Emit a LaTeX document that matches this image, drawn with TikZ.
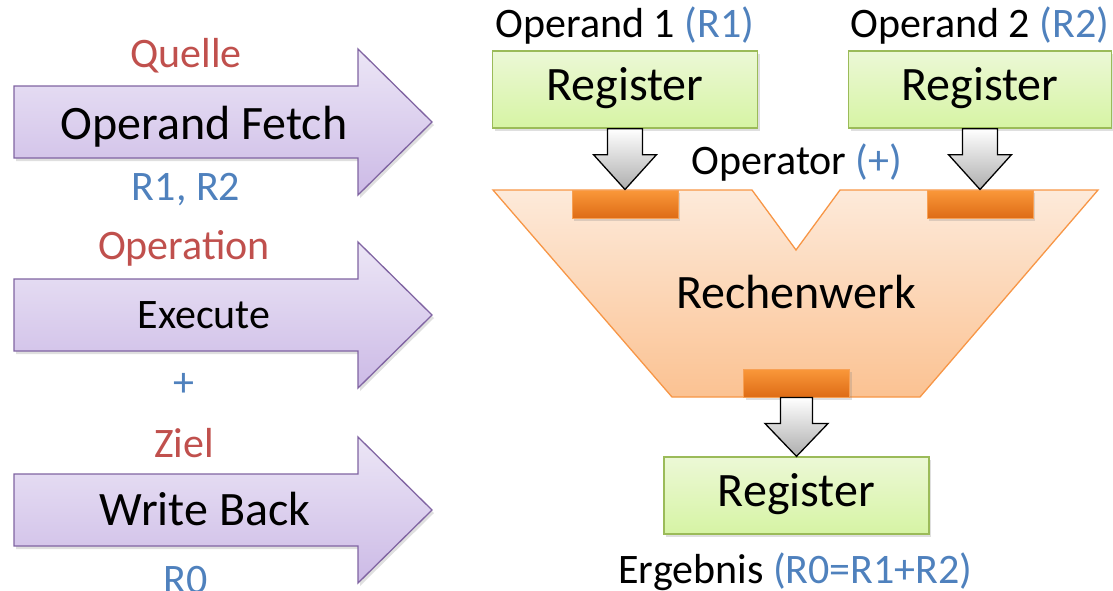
\documentclass[tikz,border=0pt]{standalone}
\usepackage{fontspec}
\setmainfont{Carlito}
\usetikzlibrary{calc,shadows}
\definecolor{txtred}{RGB}{192,80,77}
\definecolor{txtblue}{RGB}{79,129,189}
\definecolor{purptop}{RGB}{236,230,246}
\definecolor{purpbot}{RGB}{204,186,230}
\definecolor{purpline}{RGB}{128,100,162}
\definecolor{regtop}{RGB}{236,248,214}
\definecolor{regbot}{RGB}{214,244,164}
\definecolor{regline}{RGB}{155,187,89}
\definecolor{alutop}{RGB}{253,234,218}
\definecolor{alubot}{RGB}{251,194,146}
\definecolor{aluline}{RGB}{247,150,70}
\definecolor{bartop}{RGB}{250,152,58}
\definecolor{barbot}{RGB}{222,108,22}
\definecolor{barline}{RGB}{247,160,84}
\newcommand\bigf{\fontsize{48}{57}\selectfont}
\newcommand\smallf{\fontsize{42}{50}\selectfont}
\begin{document}
\begin{tikzpicture}[x=1pt,y=-1pt,
  softshadow/.style={drop shadow={opacity=0.25,shadow xshift=2pt,shadow yshift=-3pt}},
  purparrow/.style={draw=purpline,line width=1.3pt,top color=purptop,bottom color=purpbot,softshadow},
  reg/.style={draw=regline,line width=1.3pt,top color=regtop,bottom color=regbot,
    minimum width=265pt,minimum height=77pt,inner sep=0pt,font=\bigf,
    text height=30pt,text depth=9pt,softshadow},
  bar/.style={draw=barline,line width=1pt,top color=bartop,bottom color=barbot,
    minimum width=106pt,minimum height=28pt,inner sep=0pt,softshadow},
  garrow/.style={draw=black,line width=1.3pt,top color=white,bottom color=black!32,line join=miter},
  alushape/.style={draw=aluline,line width=1.3pt,top color=alutop,bottom color=alubot,line join=miter},
  lbl/.style={anchor=base,inner sep=0pt,font=\smallf},
  biglbl/.style={anchor=base,inner sep=0pt,font=\bigf}]
\useasboundingbox (0,0) rectangle (1113,590);

% left pipeline arrows
\foreach \c in {122,315,510}{
  \draw[purparrow] (14,\c-36) -- (358,\c-36) -- (358,\c-73) -- (432,\c)
     -- (358,\c+73) -- (358,\c+36) -- (14,\c+36) -- cycle;
}
\node[biglbl] (of) at (204,139) {Operand Fetch};
\node[lbl] (ex) at (204,328) {Execute};
\node[biglbl] (wb) at (205,525) {Write Back};
\node[lbl,text=txtred] (quelle) at (186,67) {Quelle};
\node[lbl,text=txtblue] (r12) at (186,200) {R1, R2};
\node[lbl,text=txtred] (oper) at (184,259) {Operation};
\node[lbl,text=txtblue] (plus) at (184,396) {+};
\node[lbl,text=txtred] (ziel) at (184,457) {Ziel};
\node[lbl,text=txtblue] (rzero) at (186,593) {R0};

% ALU
\draw[alushape] (493,190) -- (752,190) -- (796,250) -- (840,190) -- (1098,190)
   -- (920,397) -- (672,397) -- cycle;
\node[biglbl] (alu) at (796,308) {Rechenwerk};
\node[bar] (bar1) at (625,204) {};
\node[bar] (bar2) at (980,204) {};
\node[bar] (bar3) at (796.5,383) {};

% registers
\node[reg] (r1) at (625,89.5) {Register};
\node[reg,minimum width=263pt] (r2) at (980,89.5) {Register};
\node[reg] (r0) at (796.5,495.5) {Register};

% labels
\node[lbl] (op1) at (625,37) {Operand 1 \textcolor{txtblue}{(R1)}};
\node[lbl] (op2) at (980,37) {Operand 2 \textcolor{txtblue}{(R2)}};
\node[lbl] (opr) at (797,174) {Operator \textcolor{txtblue}{(+)}};
\node[lbl] (erg) at (795.5,583) {Ergebnis \textcolor{txtblue}{(R0=R1+R2)}};

% gray block arrows
\draw[garrow] ($(r1.south)+(-17.5,0)$) -- ($(r1.south)+(17.5,0)$) -- ($(r1.south)+(17.5,26)$)
  -- ($(r1.south)+(31.5,26)$) -- (bar1.north) -- ($(r1.south)+(-31.5,26)$)
  -- ($(r1.south)+(-17.5,26)$) -- cycle;
\draw[garrow] ($(r2.south)+(-17.5,0)$) -- ($(r2.south)+(17.5,0)$) -- ($(r2.south)+(17.5,26)$)
  -- ($(r2.south)+(31.5,26)$) -- (bar2.north) -- ($(r2.south)+(-31.5,26)$)
  -- ($(r2.south)+(-17.5,26)$) -- cycle;
\draw[garrow] ($(bar3.south)+(-16,0)$) -- ($(bar3.south)+(16,0)$) -- ($(bar3.south)+(16,26)$)
  -- ($(bar3.south)+(31.5,26)$) -- (r0.north) -- ($(bar3.south)+(-31.5,26)$)
  -- ($(bar3.south)+(-16,26)$) -- cycle;
\end{tikzpicture}
\end{document}
